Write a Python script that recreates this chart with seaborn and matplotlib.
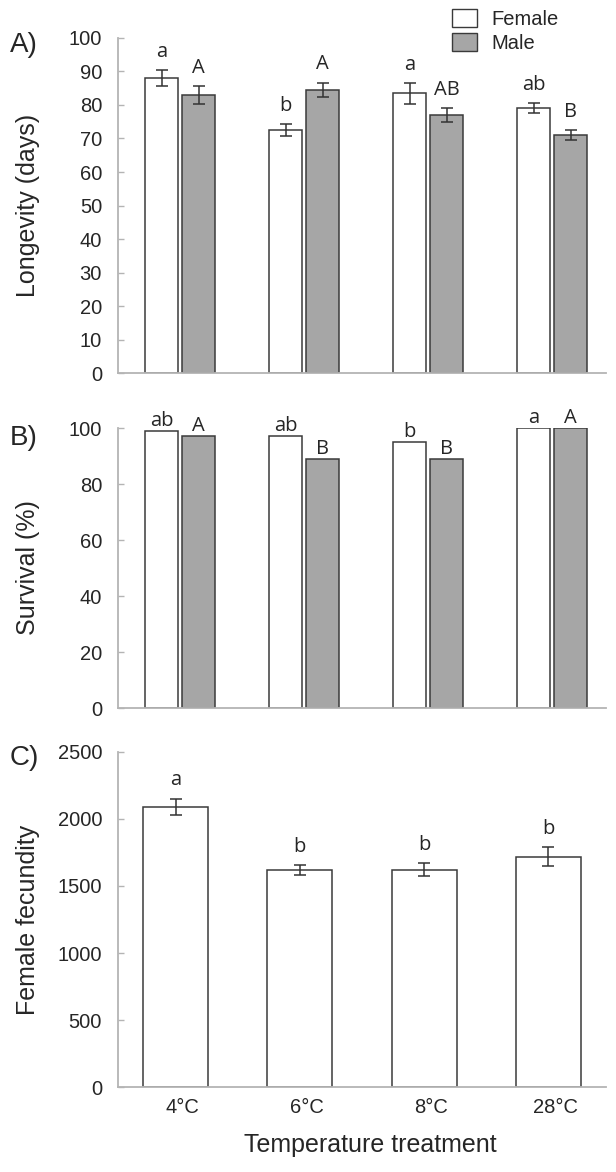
import numpy as np
import pandas as pd
import matplotlib
matplotlib.use("Agg")
import matplotlib.pyplot as plt
import matplotlib.transforms as mtrans
import seaborn as sns
from matplotlib.patches import Patch

temps = ["4°C", "6°C", "8°C", "28°C"]
sexes = ["Female", "Male"]

# A) longevity
long_f = [88.0, 72.5, 83.5, 79.1]
long_m = [83.0, 84.5, 77.0, 71.0]
long_f_err = [2.4, 1.8, 3.1, 1.4]
long_m_err = [2.7, 2.2, 2.0, 1.4]
long_f_let = ["a", "b", "a", "ab"]
long_m_let = ["A", "A", "AB", "B"]

# B) survival
surv_f = [99, 97, 95, 100]
surv_m = [97, 89, 89, 100]
surv_f_let = ["ab", "ab", "b", "a"]
surv_m_let = ["A", "B", "B", "A"]

# C) fecundity
fec = [2090, 1617, 1622, 1718]
fec_err = [62, 38, 50, 70]
fec_let = ["a", "b", "b", "b"]

sns.set_theme(style="white")
plt.rcParams["font.family"] = ["Liberation Sans", "DejaVu Sans"]
let_font = ["Open Sans", "DejaVu Sans"]

palette = {"Female": "white", "Male": "#a6a6a6"}
edge = "#3a3a3a"
spine_c = "#b4b4b4"

fig = plt.figure(figsize=(6.16, 11.72), dpi=100)
axA = fig.add_axes([0.1916, 0.6817, 0.7922, 0.2859])
axB = fig.add_axes([0.1916, 0.3959, 0.7922, 0.2389])
axC = fig.add_axes([0.1916, 0.0725, 0.7922, 0.2859])


def style(ax, ylim, ticks, ylabel):
    ax.set_ylim(*ylim)
    ax.set_yticks(ticks)
    for s in ["top", "right"]:
        ax.spines[s].set_visible(False)
    for s in ["left", "bottom"]:
        ax.spines[s].set_color(spine_c)
        ax.spines[s].set_linewidth(1.3)
    ax.tick_params(axis="y", left=True, direction="in", length=4.5, width=1,
                   color=spine_c, labelsize=14.5, pad=11.5)
    ax.tick_params(axis="x", bottom=False, direction="in", length=0,
                   labelsize=14.5, pad=8)
    ax.set_xlabel("")
    ax.set_ylabel(ylabel, fontsize=18)
    ax.yaxis.set_label_coords(-0.16, 0.5)


def letters(ax, xs, tops, labs, off):
    for x, t, l in zip(xs, tops, labs):
        ax.annotate(l, (x, t), xytext=(0, off), textcoords="offset points",
                    ha="center", va="bottom", fontsize=14.5, family=let_font,
                    annotation_clip=False)


def pair_df(f, m):
    return pd.DataFrame({"temp": temps * 2,
                         "sex": ["Female"] * 4 + ["Male"] * 4,
                         "val": list(f) + list(m)})


# ---- A
dfA = pair_df(long_f, long_m)
sns.barplot(data=dfA, x="temp", y="val", hue="sex", palette=palette, ax=axA,
            width=0.597, gap=0.108, edgecolor=edge, linewidth=1.1, legend=False)
for cont, vals, errs, labs in zip(axA.containers, [long_f, long_m],
                                  [long_f_err, long_m_err], [long_f_let, long_m_let]):
    xs = [b.get_x() + b.get_width() / 2 for b in cont]
    axA.errorbar(xs, vals, yerr=errs, fmt="none", ecolor="#333333",
                 elinewidth=1.1, capsize=4, capthick=1.1)
    letters(axA, xs, np.array(vals) + np.array(errs), labs, 6)
style(axA, (0, 100), range(0, 101, 10), "Longevity (days)")
axA.set_xlim(-0.5, 3.435)
axA.set_xticklabels([])

# ---- B
dfB = pair_df(surv_f, surv_m)
sns.barplot(data=dfB, x="temp", y="val", hue="sex", palette=palette, ax=axB,
            width=0.597, gap=0.108, edgecolor=edge, linewidth=1.1, legend=False)
for cont, vals, labs in zip(axB.containers, [surv_f, surv_m], [surv_f_let, surv_m_let]):
    xs = [b.get_x() + b.get_width() / 2 for b in cont]
    letters(axB, xs, vals, labs, 0)
style(axB, (0, 100), range(0, 101, 20), "Survival (%)")
axB.set_xlim(-0.5, 3.435)
axB.set_xticklabels([])

# ---- C
dfC = pd.DataFrame({"temp": temps, "val": fec})
sns.barplot(data=dfC, x="temp", y="val", color="white", ax=axC,
            width=0.523, edgecolor=edge, linewidth=1.1)
xs = [b.get_x() + b.get_width() / 2 for b in axC.containers[0]]
axC.errorbar(xs, fec, yerr=fec_err, fmt="none", ecolor="#333333",
             elinewidth=1.1, capsize=4, capthick=1.1)
letters(axC, xs, np.array(fec) + np.array(fec_err), fec_let, 6)
style(axC, (0, 2500), range(0, 2501, 500), "Female fecundity")
axC.set_xlim(-0.463, 3.463)
axC.set_xlabel("Temperature treatment", fontsize=18)
axC.xaxis.set_label_coords(0.518, -0.137)
axC.xaxis.get_label().set_va("top")
shift = mtrans.ScaledTranslation(5 / 72, 0, fig.dpi_scale_trans)
for lab in axC.get_xticklabels():
    lab.set_transform(lab.get_transform() + shift)

# panel labels
for y, t in [(0.9616, "A)"), (0.626, "B)"), (0.3532, "C)")]:
    fig.text(0.016, y, t, fontsize=20, va="center", ha="left")

# legend
handles = [Patch(facecolor=palette[s], edgecolor=edge, linewidth=1.0, label=s) for s in sexes]
fig.legend(handles=handles, loc="upper left", bbox_to_anchor=(0.7208, 0.999),
           frameon=False, handlelength=1.24, handleheight=1.0,
           handletextpad=0.7, labelspacing=0.2, borderaxespad=0,
           prop={"family": ["Liberation Sans", "DejaVu Sans"], "size": 14.5})

fig.savefig("out.png", dpi=100)
